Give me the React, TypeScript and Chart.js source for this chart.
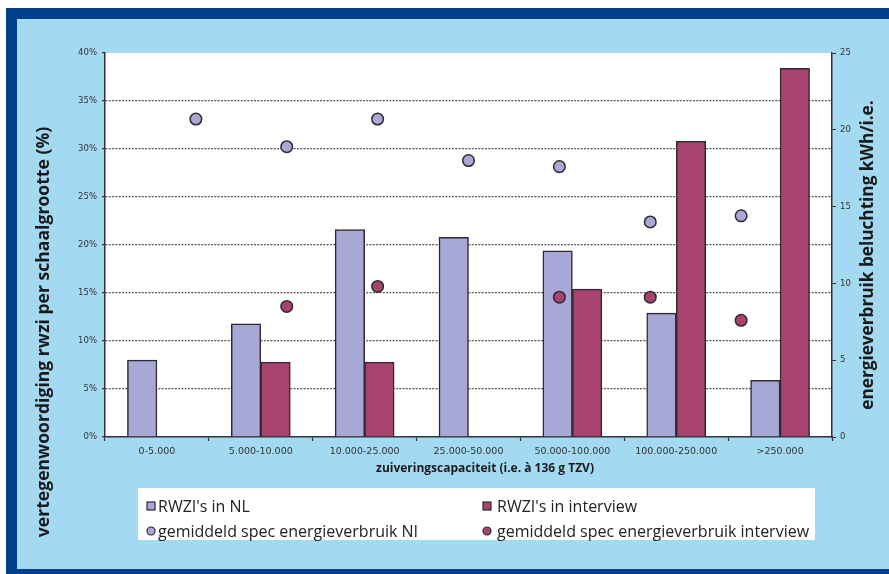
import React, { useEffect, useRef } from 'react';
import { Chart, registerables } from 'chart.js';

Chart.register(...registerables);

const categories = [
  '0-5.000',
  '5.000-10.000',
  '10.000-25.000',
  '25.000-50.000',
  '50.000-100.000',
  '100.000-250.000',
  '>250.000',
];
const shareNL = [8.0, 11.8, 21.6, 20.8, 19.4, 12.9, 5.9];
const shareInterview = [null, 7.8, 7.8, null, 15.4, 30.8, 38.4];
const energyNL = [20.7, 18.9, 20.7, 18.0, 17.6, 14.0, 14.4];
const energyInterview = [null, 8.5, 9.8, null, 9.1, 9.1, 7.6];

const seriesNames = [
  "RWZI's in NL",
  "RWZI's in interview",
  'gemiddeld spec energieverbruik Nl',
  'gemiddeld spec energieverbruik interview',
];
const leftTitle = 'vertegenwoordiging rwzi per schaalgrootte (%)';
const rightTitle = 'energieverbruik beluchting kWh/i.e.';
const xTitle = 'zuiveringscapaciteit (i.e. à 136 g TZV)';

const C_LAV = '#a8a8d6';
const C_MAG = '#a8426f';
const C_EDGE = '#2e2a30';
const C_DARKBLUE = '#00408c';
const C_LIGHTBLUE = '#a3d9f1';
const FONT = '"Open Sans", "DejaVu Sans", sans-serif';
const TICK_FONT = '"DejaVu Sans", sans-serif';

const toPoints = (vals: (number | null)[]) =>
  vals
    .map((v, i) => (v === null ? null : { x: i + 1, y: v }))
    .filter((p) => p !== null);

const framePlugin = {
  id: 'frame',
  beforeDraw(chart: any) {
    const { ctx, chartArea, width, height } = chart;
    ctx.save();
    ctx.fillStyle = '#ffffff';
    ctx.fillRect(0, 0, width, height);
    ctx.fillStyle = C_DARKBLUE;
    ctx.fillRect(6, 8, width - 6, height - 8);
    ctx.fillStyle = C_LIGHTBLUE;
    ctx.fillRect(17, 19, width - 17, 569 - 19);
    ctx.fillStyle = '#ffffff';
    ctx.fillRect(
      chartArea.left,
      chartArea.top,
      chartArea.right - chartArea.left,
      chartArea.bottom - chartArea.top
    );
    // legend box
    ctx.fillRect(138, 488, 815 - 138, 540 - 488);
    ctx.restore();
  },
  afterDraw(chart: any) {
    const { ctx } = chart;
    ctx.save();
    ctx.fillStyle = '#1a1a1a';
    ctx.textAlign = 'center';
    ctx.textBaseline = 'middle';
    // left title
    ctx.font = `bold 17.6px ${FONT}`;
    ctx.save();
    ctx.translate(44, 332);
    ctx.rotate(-Math.PI / 2);
    ctx.fillText(leftTitle, 0, 0);
    ctx.restore();
    // right title
    ctx.font = `bold 17.2px ${FONT}`;
    ctx.save();
    ctx.translate(868, 255);
    ctx.rotate(-Math.PI / 2);
    ctx.fillText(rightTitle, 0, 0);
    ctx.restore();
    // x title
    ctx.font = `bold 12px ${FONT}`;
    ctx.fillText(xTitle, 485, 469);

    // legend
    ctx.font = `16px ${FONT}`;
    ctx.textAlign = 'left';
    const items = [
      { x: 147, tx: 158, y: 506, color: C_LAV, kind: 'box', label: seriesNames[0] },
      { x: 483, tx: 497, y: 506, color: C_MAG, kind: 'box', label: seriesNames[1] },
      { x: 147, tx: 158, y: 531, color: C_LAV, kind: 'dot', label: seriesNames[2] },
      { x: 483, tx: 497, y: 531, color: C_MAG, kind: 'dot', label: seriesNames[3] },
    ];
    items.forEach((it) => {
      ctx.lineWidth = 1.2;
      ctx.strokeStyle = C_EDGE;
      ctx.fillStyle = it.color;
      if (it.kind === 'box') {
        ctx.fillRect(it.x, it.y - 4, 8, 8);
        ctx.strokeRect(it.x, it.y - 4, 8, 8);
      } else {
        ctx.beginPath();
        ctx.arc(it.x + 4, it.y, 4, 0, Math.PI * 2);
        ctx.fill();
        ctx.stroke();
      }
      ctx.fillStyle = '#222';
      ctx.fillText(it.label, it.tx, it.y + 1);
    });
    ctx.restore();
  },
};

export default function App() {
  const ref = useRef<HTMLCanvasElement | null>(null);

  useEffect(() => {
    document.body.style.margin = '0';
    const canvas = ref.current;
    if (!canvas) return;
    const chart = new Chart(canvas, {
      type: 'bar',
      data: {
        labels: categories,
        datasets: [
          {
            type: 'scatter',
            label: seriesNames[2],
            data: toPoints(energyNL) as any,
            xAxisID: 'x2',
            yAxisID: 'y2',
            backgroundColor: C_LAV,
            borderColor: C_EDGE,
            borderWidth: 1.5,
            pointRadius: 5.8,
            order: 1,
          } as any,
          {
            type: 'scatter',
            label: seriesNames[3],
            data: toPoints(energyInterview) as any,
            xAxisID: 'x2',
            yAxisID: 'y2',
            backgroundColor: C_MAG,
            borderColor: C_EDGE,
            borderWidth: 1.5,
            pointRadius: 5.8,
            order: 1,
          } as any,
          {
            type: 'bar',
            label: seriesNames[0],
            data: shareNL,
            xAxisID: 'x',
            yAxisID: 'y',
            backgroundColor: C_LAV,
            borderColor: C_EDGE,
            borderWidth: 1.5,
            barThickness: 29.5,
            order: 2,
          },
          {
            type: 'bar',
            label: seriesNames[1],
            data: shareInterview,
            xAxisID: 'x',
            yAxisID: 'y',
            backgroundColor: C_MAG,
            borderColor: C_EDGE,
            borderWidth: 1.5,
            barThickness: 29.5,
            order: 2,
          },
        ],
      },
      options: {
        responsive: false,
        animation: false,
        layout: { padding: { top: 53, left: 0, right: 0, bottom: 0 } },
        plugins: {
          legend: { display: false },
          tooltip: { enabled: false },
          title: { display: false },
        },
        scales: {
          x: {
            type: 'category',
            position: 'bottom',
            offset: true,
            grid: {
              display: true,
              offset: true,
              drawOnChartArea: false,
              drawTicks: true,
              tickLength: 4,
              tickColor: '#333',
              tickWidth: 1.2,
            },
            border: { display: true, color: '#333', width: 1.5 },
            ticks: {
              font: { family: TICK_FONT, size: 9.5 },
              color: '#333',
              padding: 5,
              maxRotation: 0,
              autoSkip: false,
            },
            afterFit: (s: any) => {
              s.height = 137;
            },
          },
          x2: {
            type: 'linear',
            display: false,
            offset: false,
            grid: { offset: false },
            min: 0,
            max: 8,
          },
          y: {
            type: 'linear',
            position: 'left',
            min: 0,
            max: 40,
            ticks: {
              stepSize: 5,
              font: { family: TICK_FONT, size: 8.5 },
              color: '#333',
              padding: 5,
              callback: (v: any) => v + '%',
            },
            grid: {
              color: (c: any) =>
                c.tick && (c.tick.value === 0 || c.tick.value === 40)
                  ? 'rgba(0,0,0,0)'
                  : '#5c5252',
              lineWidth: 1.3,
              drawTicks: true,
              tickLength: 3,
              tickColor: '#333',
            },
            border: { display: true, color: '#333', width: 1.5, dash: [2, 1.3] },
            afterFit: (s: any) => {
              s.width = 105;
            },
          },
          y2: {
            type: 'linear',
            position: 'right',
            min: 0,
            max: 25,
            ticks: {
              stepSize: 5,
              font: { family: TICK_FONT, size: 8.5 },
              color: '#333',
              padding: 4,
            },
            grid: {
              drawOnChartArea: false,
              drawTicks: true,
              tickLength: 4,
              tickColor: '#333',
            },
            border: { display: true, color: '#333', width: 1.5 },
            afterFit: (s: any) => {
              s.width = 57;
            },
          },
        },
      },
      plugins: [framePlugin],
    });
    return () => chart.destroy();
  }, []);

  return (
    <div style={{ width: 889, height: 574 }}>
      <canvas ref={ref} width={889} height={574} style={{ display: 'block' }} />
    </div>
  );
}
